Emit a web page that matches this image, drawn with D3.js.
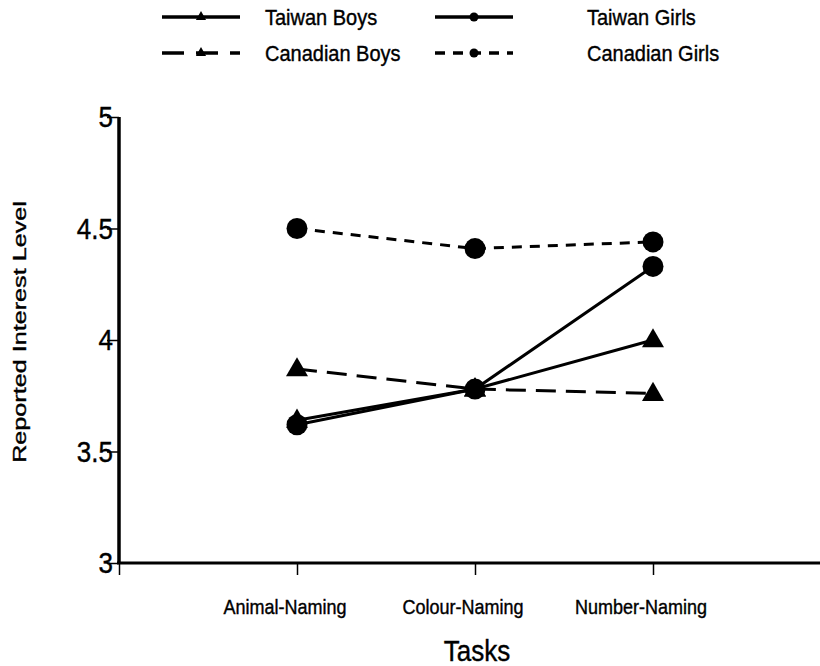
<!DOCTYPE html>
<html><head><meta charset="utf-8">
<script src="https://cdn.jsdelivr.net/npm/d3@7"></script>
<style>body{margin:0;background:#fff}svg{display:block}text{font-family:"Liberation Sans",Arial,sans-serif;fill:#000;stroke:#000;stroke-width:0.35px}</style>
</head><body><svg id="c" width="820" height="666"></svg>
<script>
const tasks = ["Animal-Naming", "Colour-Naming", "Number-Naming"];
const yTicks = [3, 3.5, 4, 4.5, 5];
const taiwanBoys = [3.64, 3.78, 4.00];
const taiwanGirls = [3.62, 3.78, 4.33];
const canadianBoys = [3.87, 3.78, 3.76];
const canadianGirls = [4.50, 4.41, 4.44];
const seriesNames = ["Taiwan Boys", "Taiwan Girls", "Canadian Boys", "Canadian Girls"];

const series = [
  {name: seriesNames[0], values: taiwanBoys, shape: "tri", dash: null, legDash: null},
  {name: seriesNames[1], values: taiwanGirls, shape: "circ", dash: null, legDash: null},
  {name: seriesNames[2], values: canadianBoys, shape: "tri", dash: "20,10", legDash: "22,12"},
  {name: seriesNames[3], values: canadianGirls, shape: "circ", dash: "10,8", legDash: "10,8"}
];

const svg = d3.select("#c");
const x = d3.scaleLinear().domain([0, 4]).range([119, 831]);
const y = d3.scaleLinear().domain([3, 5]).range([563, 117]);

function label(px, py, str, size, anchor, k) {
  const t = svg.append("text").attr("transform", `translate(${px},${py}) scale(1,${k})`)
    .attr("text-anchor", anchor).style("font-size", size + "px").text(str);
  return t;
}

// y axis
const yAx = svg.append("g").attr("transform", "translate(119,0)")
  .call(d3.axisLeft(y).tickValues(yTicks).tickFormat("").tickSize(12));
yAx.select(".domain").remove();
yAx.selectAll(".tick line").attr("stroke", "#000").attr("stroke-width", 1.5);
yTicks.forEach(v => label(113, y(v) + 10, d3.format("")(v), 26, "end", 1.12));
svg.append("line").attr("x1", 119).attr("x2", 119).attr("y1", y(5)).attr("y2", y(3)).attr("stroke", "#000").attr("stroke-width", 3.5);

// x axis
const xAx = svg.append("g").attr("transform", "translate(0,563)")
  .call(d3.axisBottom(x).tickValues([0, 1, 2, 3]).tickFormat("").tickSize(12));
xAx.select(".domain").remove();
xAx.selectAll(".tick line").attr("stroke", "#000").attr("stroke-width", 1.5);
tasks.forEach((t, i) => label(x(i + 1) - 12, 614, t, 18, "middle", 1.08));
svg.append("line").attr("x1", 117).attr("x2", 820).attr("y1", 563).attr("y2", 563).attr("stroke", "#000").attr("stroke-width", 3);

label(477, 661, "Tasks", 26, "middle", 1.1);
svg.append("text").attr("transform", "translate(26,332) rotate(-90) scale(1.4,1)")
  .attr("text-anchor", "middle").style("font-size", "18px").text("Reported Interest Level");

// lines and markers
const line = d3.line().x((d, i) => x(i + 1)).y(d => y(d));
const triSym = d3.symbol().type(d3.symbolTriangle);
series.forEach(s => {
  svg.append("path").attr("d", line(s.values)).attr("fill", "none").attr("stroke", "#000")
    .attr("stroke-width", 3).attr("stroke-dasharray", s.dash);
  s.values.forEach((v, i) => {
    if (s.shape === "circ") {
      svg.append("circle").attr("cx", x(i + 1)).attr("cy", y(v)).attr("r", 10.5).attr("fill", "#000");
    } else {
      svg.append("path").attr("d", triSym.size(210)()).attr("transform", `translate(${x(i + 1)},${y(v) + 1})`).attr("fill", "#000");
    }
  });
});

// legend
const legX = [162, 435], legTextX = [265, 587], legY = [17, 53];
series.forEach((s, k) => {
  const lx = legX[k % 2], ly = legY[Math.floor(k / 2)];
  const g = svg.append("g");
  g.append("line").attr("x1", lx).attr("x2", lx + 78).attr("y1", ly).attr("y2", ly).attr("stroke", "#000")
    .attr("stroke-width", 3.5).attr("stroke-dasharray", s.legDash);
  if (s.shape === "circ") g.append("circle").attr("cx", lx + 39).attr("cy", ly).attr("r", 4.5).attr("fill", "#000");
  else g.append("path").attr("d", triSym.size(45)()).attr("transform", `translate(${lx + 39},${ly})`).attr("fill", "#000");
  label(legTextX[k % 2], ly + 8, s.name, 20, "start", 1.08);
});
</script></body></html>
